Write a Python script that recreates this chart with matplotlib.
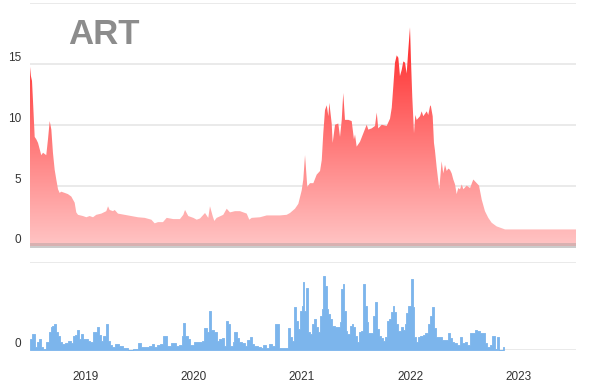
import numpy as np
import matplotlib.pyplot as plt
from matplotlib.colors import LinearSegmentedColormap

W, H = 595, 387

# price (decimal year, value)
price_t = [2018.481, 2018.490, 2018.500, 2018.509, 2018.525, 2018.540, 2018.556, 2018.571,
           2018.586, 2018.602, 2018.632, 2018.648, 2018.664, 2018.679, 2018.694, 2018.710,
           2018.725, 2018.741, 2018.756, 2018.771, 2018.803, 2018.833, 2018.864, 2018.895,
           2018.910, 2018.926, 2018.972, 2019.003, 2019.034, 2019.065, 2019.095, 2019.142,
           2019.188, 2019.204, 2019.219, 2019.250, 2019.266, 2019.296, 2019.358, 2019.419,
           2019.481, 2019.544, 2019.605, 2019.636, 2019.667, 2019.713, 2019.747, 2019.808,
           2019.870, 2019.901, 2019.917, 2019.947, 2019.994, 2020.025, 2020.056, 2020.102,
           2020.132, 2020.148, 2020.173, 2020.188, 2020.210, 2020.271, 2020.303, 2020.333,
           2020.380, 2020.426, 2020.488, 2020.512, 2020.534, 2020.611, 2020.673, 2020.734,
           2020.796, 2020.858, 2020.889, 2020.935, 2020.966, 2020.997, 2021.012, 2021.028,
           2021.049, 2021.074, 2021.105, 2021.136, 2021.167, 2021.183, 2021.197, 2021.213,
           2021.229, 2021.244, 2021.253, 2021.275, 2021.284, 2021.306, 2021.336, 2021.352,
           2021.368, 2021.382, 2021.398, 2021.429, 2021.460, 2021.481, 2021.491, 2021.506,
           2021.537, 2021.568, 2021.599, 2021.614, 2021.645, 2021.676, 2021.692, 2021.706,
           2021.738, 2021.784, 2021.815, 2021.831, 2021.845, 2021.861, 2021.877, 2021.892,
           2021.907, 2021.923, 2021.938, 2021.954, 2021.969, 2021.984, 2022.000, 2022.009,
           2022.021, 2022.037, 2022.049, 2022.062, 2022.093, 2022.108, 2022.123, 2022.155,
           2022.169, 2022.185, 2022.192, 2022.210, 2022.222, 2022.231, 2022.247, 2022.271,
           2022.293, 2022.308, 2022.324, 2022.340, 2022.355, 2022.370, 2022.386, 2022.401,
           2022.417, 2022.432, 2022.447, 2022.463, 2022.479, 2022.494, 2022.525, 2022.556,
           2022.586, 2022.618, 2022.639, 2022.664, 2022.694, 2022.725, 2022.756, 2022.802,
           2022.849, 2022.880, 2023.537]
price = [14.8, 14.0, 13.6, 12.0, 9.0, 8.8, 8.5, 8.0,
         7.5, 7.7, 7.5, 8.8, 10.3, 9.6, 7.7, 6.3,
         5.5, 4.7, 4.4, 4.5, 4.4, 4.3, 4.1, 3.6,
         2.8, 2.6, 2.5, 2.4, 2.5, 2.4, 2.6, 2.7,
         2.9, 3.3, 3.0, 2.9, 3.0, 2.7, 2.6, 2.5,
         2.4, 2.35, 2.2, 1.9, 2.0, 2.0, 2.35, 2.25,
         2.25, 2.6, 3.0, 2.5, 2.35, 2.2, 2.3, 2.75,
         2.35, 3.3, 2.5, 2.1, 2.35, 2.6, 3.1, 2.8,
         2.9, 2.9, 2.7, 2.2, 2.35, 2.4, 2.55, 2.55,
         2.55, 2.6, 2.75, 3.1, 3.5, 4.6, 5.5, 7.5,
         4.9, 5.2, 5.2, 5.9, 6.2, 7.1, 9.3, 11.2,
         11.6, 10.7, 11.8, 10.1, 8.5, 10.0, 10.1, 9.0,
         10.4, 12.6, 10.4, 10.4, 10.3, 8.8, 9.2, 8.2,
         8.6, 9.3, 10.0, 9.6, 9.7, 9.9, 11.0, 9.7,
         10.0, 9.9, 10.5, 11.4, 13.1, 15.1, 15.7, 15.5,
         14.0, 14.5, 15.2, 15.1, 14.2, 16.1, 18.0, 15.3,
         12.3, 9.3, 10.8, 10.4, 10.7, 11.1, 10.7, 11.1,
         10.8, 11.5, 11.6, 10.7, 8.5, 7.9, 6.5, 4.7,
         7.0, 6.0, 6.7, 6.2, 6.4, 6.3, 6.0, 5.5,
         5.1, 4.3, 4.8, 4.7, 5.1, 4.7, 5.0, 4.8,
         5.5, 5.2, 5.0, 3.85, 2.9, 2.35, 1.95, 1.65,
         1.5, 1.4, 1.4]

# volume (decimal year, relative value)
vol_t = [2018.484, 2018.516, 2018.540, 2018.556, 2018.571, 2018.593, 2018.618, 2018.648,
         2018.664, 2018.679, 2018.694, 2018.710, 2018.731, 2018.750, 2018.771, 2018.790,
         2018.818, 2018.849, 2018.873, 2018.895, 2018.910, 2018.926, 2018.942, 2018.963,
         2018.984, 2019.003, 2019.025, 2019.049, 2019.081, 2019.095, 2019.111, 2019.127,
         2019.148, 2019.173, 2019.194, 2019.210, 2019.234, 2019.256, 2019.287, 2019.318,
         2019.364, 2019.414, 2019.463, 2019.500, 2019.525, 2019.565, 2019.595, 2019.620,
         2019.642, 2019.669, 2019.701, 2019.734, 2019.766, 2019.815, 2019.845, 2019.877,
         2019.895, 2019.907, 2019.932, 2019.954, 2019.979, 2020.021, 2020.056, 2020.086,
         2020.108, 2020.127, 2020.148, 2020.169, 2020.201, 2020.216, 2020.241, 2020.269,
         2020.290, 2020.306, 2020.324, 2020.349, 2020.364, 2020.382, 2020.410, 2020.432,
         2020.460, 2020.479, 2020.503, 2020.525, 2020.546, 2020.574, 2020.602, 2020.632,
         2020.655, 2020.682, 2020.710, 2020.738, 2020.771, 2020.799, 2020.831, 2020.855,
         2020.877, 2020.895, 2020.912, 2020.931, 2020.952, 2020.972, 2020.991, 2021.005,
         2021.014, 2021.028, 2021.051, 2021.067, 2021.083, 2021.102, 2021.120, 2021.136,
         2021.156, 2021.174, 2021.190, 2021.206, 2021.220, 2021.236, 2021.252, 2021.267,
         2021.282, 2021.301, 2021.318, 2021.344, 2021.359, 2021.370, 2021.384, 2021.398,
         2021.412, 2021.429, 2021.452, 2021.468, 2021.483, 2021.498, 2021.516, 2021.542,
         2021.557, 2021.581, 2021.593, 2021.606, 2021.622, 2021.645, 2021.669, 2021.688,
         2021.706, 2021.720, 2021.738, 2021.757, 2021.776, 2021.798, 2021.813, 2021.831,
         2021.847, 2021.863, 2021.881, 2021.903, 2021.923, 2021.944, 2021.958, 2021.977,
         2021.993, 2022.017, 2022.032, 2022.048, 2022.065, 2022.085, 2022.108, 2022.131,
         2022.153, 2022.178, 2022.194, 2022.211, 2022.227, 2022.247, 2022.278, 2022.308,
         2022.340, 2022.363, 2022.378, 2022.398, 2022.417, 2022.447, 2022.472, 2022.494,
         2022.519, 2022.544, 2022.563, 2022.586, 2022.611, 2022.632, 2022.656, 2022.679,
         2022.701, 2022.725, 2022.748, 2022.773, 2022.792, 2022.810, 2022.829, 2022.852,
         2022.873]
vol = [13, 18, 3, 9.5, 13, 3, 1.5, 9.5,
       21, 26.5, 27, 29, 21, 16, 9.5, 7,
       7.5, 10, 8, 16, 17, 23, 13, 18,
       13, 12.5, 10.6, 9.5, 20, 21, 26, 17,
       10.6, 16, 29, 10.6, 5.7, 3.8, 6.4, 4.5,
       1.9, 0.5, 1.5, 8.3, 3.8, 3, 4.5, 6.8,
       3.8, 5.7, 6.5, 16, 5, 7.6, 5, 6,
       16, 31, 16, 12.5, 6, 9.5, 9.5, 10.6,
       25, 20, 44, 22.7, 21, 10.6, 12.5, 13.6,
       5, 32.6, 30, 5, 9.5, 20, 13.6, 8.7,
       7.6, 5, 11.7, 15, 6.8, 5, 3.8, 2.3,
       5.7, 2.3, 6.8, 5, 29.5, 2.3, 2, 2.3,
       24.6, 15, 10.6, 48.5, 32.6, 24, 44.7, 50,
       77, 44.7, 70.5, 20, 18, 29.5, 35, 25.8,
       20, 39, 46.6, 84.5, 73, 46.6, 41, 35,
       27.7, 27.7, 25.8, 25.8, 31.5, 69, 75, 44.7,
       22, 18, 27.7, 29.5, 25.8, 16.3, 8.7, 20,
       22, 75, 50, 31.5, 19, 19, 39, 54,
       24, 16.3, 13.5, 10.6, 14.4, 33.3, 35, 42.8,
       50, 42.8, 29.5, 22, 26.5, 22.7, 30, 42,
       50, 81, 49, 14.4, 9.5, 15, 16, 17,
       19, 30, 39, 49, 25, 15, 14.4, 11.4,
       11.4, 19, 13.3, 9, 7.6, 5.7, 14.4, 7.6,
       8.7, 5.7, 19, 19.7, 22.7, 22, 19.7, 19,
       7.6, 3.8, 5.7, 16, 0.8, 14.4, 0, 0,
       3.8]

year_ticks = [2019, 2020, 2021, 2022, 2023]
year_labels = ['2019', '2020', '2021', '2022', '2023']
price_ticks = [0, 5, 10, 15, 20]
price_labels = ['0', '5', '10', '15', '']


def px_axes(fig, left, top, right, bottom):
    return fig.add_axes([left / W, 1 - bottom / H, (right - left) / W, (bottom - top) / H])


def style_axes(ax):
    for s in ax.spines.values():
        s.set_visible(False)
    ax.set_axisbelow(True)
    ax.grid(axis='y', color='#e6e6e6', linewidth=1.2)
    ax.tick_params(axis='both', length=0, labelsize=8.5, labelcolor='#333333')
    ax.tick_params(axis='y', pad=6.5)


plt.rcParams['font.family'] = ['Liberation Sans', 'DejaVu Sans']

fig = plt.figure(figsize=(W / 100, H / 100), dpi=100)
x0, x1 = 2018.4815, 2023.537
y_bot = -0.15

# price panel
ax = px_axes(fig, 30, 3, 576, 248.3)
poly = ax.fill_between(price_t, price, y_bot, facecolor='none', edgecolor='none')
grad = np.linspace(0, 1, 256).reshape(-1, 1)
cmap = LinearSegmentedColormap.from_list('reds', ['#ffc6c6', '#ff1414'])
img = ax.imshow(grad, cmap=cmap, aspect='auto', origin='lower',
                extent=(x0, x1, y_bot, 20), zorder=2)
img.set_clip_path(poly.get_paths()[0], ax.transData)
ax.axhspan(y_bot, 0.3, color='#909090', alpha=0.35, lw=0, zorder=3)
ax.axhspan(y_bot, 0.05, color='#cccccc', lw=0, zorder=3)
ax.set_xlim(x0, x1)
ax.set_ylim(y_bot, 20)
style_axes(ax)
ax.set_xticks([])
ax.set_yticks(price_ticks)
ax.set_yticklabels(price_labels)
for lab in ax.get_yticklabels():
    lab.set_va('bottom')

fig.text(68 / W, 1 - 34 / H, 'ART', fontsize=25, fontweight='bold',
         color='#8c8c8c', ha='left', va='center')

# volume panel
axv = px_axes(fig, 30, 262, 576, 350)
axv.fill_between(vol_t, vol, step='mid', facecolor='#7cb5ec',
                 edgecolor='#7cb5ec', lw=0.6, zorder=2)
axv.set_xlim(x0, x1)
axv.set_ylim(0, 100)
style_axes(axv)
axv.set_yticks([0, 100])
axv.set_yticklabels(['0', ''])
for lab in axv.get_yticklabels():
    lab.set_va('bottom')
axv.set_xticks(year_ticks)
axv.set_xticklabels(year_labels)
axv.tick_params(axis='x', pad=15)

fig.savefig('out.png', dpi=100)
